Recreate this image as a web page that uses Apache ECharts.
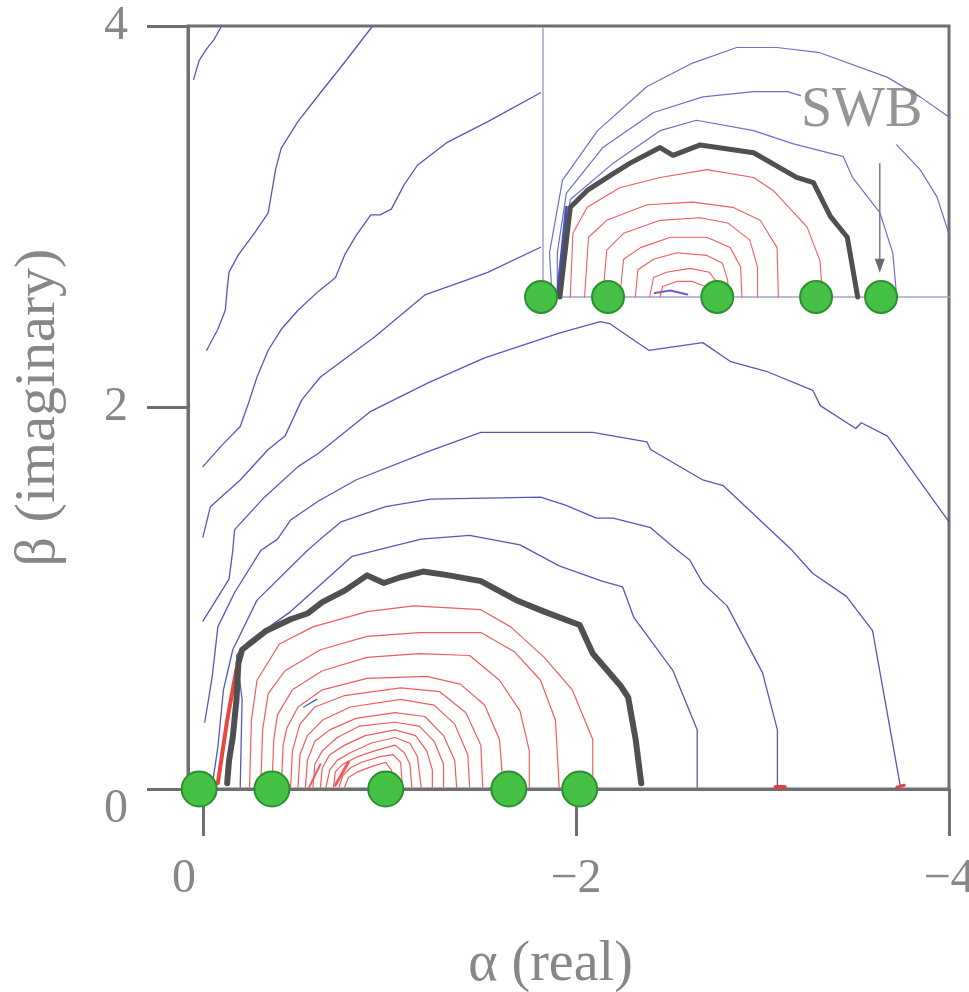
<!DOCTYPE html>
<html>
<head>
<meta charset="utf-8">
<script src="https://cdn.jsdelivr.net/npm/echarts@6/dist/echarts.min.js"></script>
<style>
  html, body { margin: 0; padding: 0; background: #fff; }
  #chart { width: 969px; height: 992px; }
</style>
</head>
<body>
<div id="chart"></div>
<script>
// ---- axis ticks ----
const alphaTicks = [0, -2, -4];
const betaTicks = [0, 2, 4];

// ---- main panel: level curves in the (alpha, beta) plane, points are [alpha, beta] ----
const blue1 = [[-0.10,4.00],[-0.06,3.93],[-0.02,3.88],[0.02,3.82],[0.05,3.72]];
const blue2 = [[-0.91,4.00],[-0.76,3.81],[-0.63,3.65],[-0.51,3.50],[-0.42,3.36],[-0.39,3.25],[-0.35,3.02],[-0.28,2.92],[-0.19,2.80],[-0.14,2.71],[-0.13,2.62],[-0.12,2.51],[-0.08,2.41],[-0.02,2.30]];
const blue3 = [[-1.81,3.65],[-1.53,3.50],[-1.31,3.39],[-1.15,3.27],[-1.08,3.17],[-1.01,3.04],[-0.95,3.01],[-0.90,3.01],[-0.82,2.90],[-0.76,2.80],[-0.71,2.68],[-0.62,2.61],[-0.51,2.51],[-0.42,2.41],[-0.35,2.30],[-0.29,2.16],[-0.24,2.01],[-0.20,1.90],[-0.10,1.80],[0.00,1.69]];
const blue4 = [[-1.81,2.84],[-1.53,2.71],[-1.42,2.67],[-1.19,2.59],[-0.92,2.37],[-0.63,2.16],[-0.53,2.04],[-0.44,1.85],[-0.35,1.78],[-0.20,1.62],[-0.04,1.48],[0.00,1.32]];
const blue5 = [[-4.00,1.40],[-3.67,1.85],[-3.53,1.92],[-3.50,1.89],[-3.31,2.01],[-3.27,2.09],[-3.02,2.19],[-2.83,2.24],[-2.68,2.34],[-2.39,2.30],[-2.18,2.44],[-2.13,2.45],[-1.91,2.39],[-1.51,2.26],[-1.21,2.13],[-0.90,1.98],[-0.76,1.87],[-0.62,1.76],[-0.51,1.69],[-0.33,1.53],[-0.17,1.36],[-0.16,1.25],[-0.14,1.10],[0.00,0.88]];
const blue6 = [[-3.74,0.01],[-3.59,0.83],[-3.45,1.01],[-3.27,1.13],[-3.16,1.25],[-2.79,1.59],[-2.68,1.62],[-2.40,1.78],[-2.38,1.82],[-2.09,1.87],[-1.91,1.87],[-1.49,1.87],[-1.21,1.77],[-0.82,1.62],[-0.62,1.51],[-0.47,1.41],[-0.40,1.31],[-0.31,1.25],[-0.17,1.03],[-0.08,0.85],[-0.05,0.59],[-0.01,0.35]];
const blue7 = [[-3.08,0.01],[-3.08,0.31],[-3.00,0.61],[-2.81,0.96],[-2.68,1.08],[-2.61,1.20],[-2.52,1.27],[-2.40,1.37],[-2.20,1.42],[-2.11,1.42],[-1.94,1.49],[-1.81,1.53],[-1.22,1.52],[-0.98,1.48],[-0.74,1.40],[-0.63,1.31],[-0.56,1.25],[-0.29,0.99],[-0.16,0.73],[-0.11,0.52],[-0.08,0.22],[-0.05,0.02]];
const blue8 = [[-2.65,0.01],[-2.65,0.31],[-2.52,0.62],[-2.31,0.90],[-2.25,1.06],[-2.14,1.09],[-1.91,1.17],[-1.70,1.28],[-1.43,1.33],[-1.17,1.31],[-0.80,1.22],[-0.47,0.93],[-0.24,0.77],[-0.18,0.70],[-0.21,0.47],[-0.20,0.01]];
const blueDash = [[-0.54,0.43],[-0.61,0.47]];

// stability boundary (heavy curve)
const boundary = [[-0.13,0.03],[-0.14,0.15],[-0.16,0.27],[-0.18,0.47],[-0.19,0.66],[-0.21,0.73],[-0.34,0.83],[-0.47,0.89],[-0.56,0.92],[-0.64,0.98],[-0.76,1.04],[-0.88,1.12],[-0.97,1.08],[-1.06,1.11],[-1.18,1.14],[-1.32,1.12],[-1.49,1.09],[-1.68,0.99],[-1.83,0.93],[-2.02,0.86],[-2.09,0.71],[-2.24,0.54],[-2.28,0.48],[-2.32,0.26],[-2.35,0.03]];

// inner (red) level curves
const red1 = [[-0.25,0.01],[-0.26,0.36],[-0.29,0.57],[-0.41,0.76],[-0.59,0.85],[-0.88,0.93],[-1.13,0.96],[-1.49,0.94],[-1.65,0.85],[-1.83,0.69],[-1.98,0.52],[-2.09,0.26],[-2.09,0.01]];
const red2 = [[-0.31,0.01],[-0.32,0.31],[-0.35,0.50],[-0.44,0.62],[-0.63,0.73],[-0.88,0.80],[-1.16,0.82],[-1.49,0.82],[-1.67,0.72],[-1.81,0.57],[-1.89,0.36],[-1.91,0.01]];
const red3 = [[-0.37,0.01],[-0.38,0.26],[-0.40,0.39],[-0.48,0.52],[-0.64,0.62],[-0.88,0.69],[-1.16,0.71],[-1.43,0.70],[-1.59,0.57],[-1.70,0.41],[-1.75,0.20],[-1.75,0.01]];
const red4 = [[-0.42,0.01],[-0.43,0.23],[-0.45,0.32],[-0.51,0.43],[-0.64,0.52],[-0.88,0.58],[-1.20,0.59],[-1.38,0.55],[-1.51,0.44],[-1.59,0.26],[-1.61,0.01]];
const red5 = [[-0.47,0.01],[-0.48,0.20],[-0.52,0.34],[-0.60,0.43],[-0.76,0.49],[-1.06,0.53],[-1.27,0.51],[-1.41,0.40],[-1.49,0.23],[-1.50,0.01]];
const red6 = [[-0.51,0.01],[-0.52,0.18],[-0.56,0.28],[-0.64,0.36],[-0.79,0.43],[-1.06,0.47],[-1.24,0.44],[-1.35,0.34],[-1.42,0.18],[-1.43,0.01]];
const red7 = [[-0.55,0.01],[-0.56,0.15],[-0.60,0.25],[-0.68,0.31],[-0.82,0.37],[-1.03,0.40],[-1.19,0.38],[-1.29,0.28],[-1.35,0.15],[-1.36,0.01]];
const red8 = [[-0.59,0.01],[-0.60,0.13],[-0.64,0.20],[-0.72,0.27],[-0.84,0.33],[-1.03,0.35],[-1.16,0.33],[-1.24,0.25],[-1.29,0.13],[-1.29,0.01]];
const red9 = [[-0.63,0.01],[-0.64,0.11],[-0.68,0.18],[-0.76,0.23],[-0.87,0.28],[-1.03,0.31],[-1.14,0.28],[-1.20,0.20],[-1.23,0.10],[-1.23,0.01]];
const red10 = [[-0.66,0.01],[-0.68,0.10],[-0.72,0.15],[-0.79,0.19],[-0.90,0.24],[-1.03,0.27],[-1.11,0.24],[-1.15,0.17],[-1.17,0.01]];
const red11 = [[-0.70,0.01],[-0.71,0.09],[-0.75,0.13],[-0.83,0.17],[-0.92,0.20],[-1.03,0.23],[-1.08,0.19],[-1.11,0.13],[-1.12,0.01]];
const red12 = [[-0.73,0.01],[-0.75,0.07],[-0.79,0.11],[-0.85,0.14],[-0.95,0.17],[-1.02,0.18],[-1.06,0.14],[-1.07,0.01]];
const red13 = [[-0.76,0.01],[-0.78,0.06],[-0.83,0.09],[-0.91,0.12],[-0.98,0.14],[-1.01,0.10],[-1.02,0.01]];
const redStrip = [[-0.18,0.63],[-0.13,0.36],[-0.08,0.03]];
const redDash1 = [[-0.78,0.14],[-0.71,0.02]];
const redDash2 = [[-0.63,0.13],[-0.57,0.01]];
const redFoot1 = [[-3.07,0.01],[-3.12,0.01]];
const redFoot2 = [[-3.72,0.01],[-3.76,0.02]];

// eigenvalue markers on the real axis
const mainRoots = [[0.02,0],[-0.37,0],[-0.98,0],[-1.64,0],[-2.02,0]];

// ---- inset panel (its own alpha/beta scale) ----
const insetBlue1 = [[-3.13,1.38],[-2.90,1.54],[-2.65,1.69],[-2.13,1.88],[-1.80,1.92],[-1.49,1.92],[-1.15,1.80],[-0.80,1.62],[-0.42,1.28],[-0.15,0.90],[-0.05,0.34],[-0.07,0.00]];
const insetBlue2Right = [[-3.13,0.46],[-3.03,0.77],[-2.90,0.98],[-2.72,1.17]];
const insetBlue2Left = [[-1.98,1.55],[-1.88,1.58],[-1.62,1.58],[-1.23,1.54],[-0.85,1.42],[-0.46,1.15],[-0.18,0.80],[-0.11,0.34],[-0.11,0.00]];
const insetBlue3 = [[-2.72,0.00],[-2.69,0.34],[-2.59,0.65],[-2.38,0.92],[-2.31,1.08],[-1.92,1.18],[-1.62,1.28],[-1.18,1.36],[-0.90,1.28],[-0.54,1.03],[-0.21,0.75],[-0.15,0.34],[-0.13,0.00]];
const insetBlueStrip = [[-0.18,0.69],[-0.11,0.00]];
const insetSquiggle = [[-0.86,0.03],[-0.98,0.05],[-1.11,0.02]];
const insetBoundary = [[-0.13,0.00],[-0.21,0.69],[-0.34,0.82],[-0.54,0.95],[-0.67,1.03],[-0.90,1.15],[-1.00,1.09],[-1.21,1.17],[-1.62,1.11],[-1.95,0.92],[-2.08,0.88],[-2.21,0.62],[-2.34,0.46],[-2.42,0.00]];
const insetRed1 = [[-0.21,0.00],[-0.23,0.49],[-0.34,0.69],[-0.59,0.84],[-0.90,0.92],[-1.26,0.98],[-1.62,0.92],[-1.77,0.82],[-2.03,0.54],[-2.13,0.28],[-2.15,0.00]];
const insetRed2 = [[-0.32,0.00],[-0.35,0.46],[-0.49,0.59],[-0.80,0.71],[-1.15,0.73],[-1.46,0.69],[-1.67,0.59],[-1.80,0.38],[-1.81,0.00]];
const insetRed3 = [[-0.46,0.00],[-0.49,0.36],[-0.62,0.49],[-0.90,0.59],[-1.21,0.61],[-1.42,0.57],[-1.59,0.44],[-1.65,0.23],[-1.65,0.00]];
const insetRed4 = [[-0.59,0.00],[-0.62,0.29],[-0.75,0.38],[-0.98,0.46],[-1.26,0.46],[-1.44,0.38],[-1.52,0.23],[-1.53,0.00]];
const insetRed5 = [[-0.71,0.00],[-0.73,0.21],[-0.85,0.29],[-1.03,0.34],[-1.26,0.32],[-1.38,0.26],[-1.42,0.13],[-1.43,0.00]];
const insetRed6 = [[-0.82,0.00],[-0.85,0.15],[-0.95,0.19],[-1.13,0.22],[-1.28,0.19],[-1.34,0.11],[-1.34,0.00]];
const insetRed7 = [[-0.90,0.00],[-0.92,0.08],[-1.03,0.12],[-1.15,0.12],[-1.25,0.08],[-1.26,0.00]];
const insetRoots = [[0.015,0],[-0.50,0],[-1.34,0],[-2.10,0],[-2.60,0]];
const swbArrow = [[-2.59,1.03],[-2.59,0.24]];
const swbLabelPos = [[-2.45,1.43]];

// ---- styling ----
const AXIS = '#6f6f6f';
const TEXT = '#878787';
const SERIF = 'Liberation Serif, Times New Roman, serif';
const BLUE = '#5458b9';
const BLUE_INSET = '#6b70c9';
const RED = '#ef5d5d';
const HEAVY = '#505050';
const GREEN = '#45c245';
const GREEN_EDGE = '#2d8f2e';

function curve(data, color, width, g, z) {
  return {
    type: 'line', xAxisIndex: g, yAxisIndex: g, data: data,
    symbol: 'none', showSymbol: false, smooth: false, clip: false, silent: true,
    lineStyle: { color: color, width: width, cap: 'round', join: 'round' },
    z: z || 2
  };
}

const series = [];
[blue1, blue2, blue3, blue4, blue5, blue6, blue7, blue8, blueDash].forEach(d => series.push(curve(d, BLUE, 1.3, 0, 2)));
[red1, red2, red3, red4, red5, red6, red7, red8, red9, red10, red11, red12, red13].forEach(d => series.push(curve(d, RED, 1.2, 0, 3)));
series.push(curve(redDash1, RED, 3, 0, 3));
series.push(curve(redDash2, RED, 2, 0, 3));
series.push(curve(redFoot1, '#e0404a', 4, 0, 3));
series.push(curve(redFoot2, '#e0404a', 3, 0, 3));
series.push(curve(redStrip, '#e9473e', 4, 0, 4));
series.push(curve(boundary, HEAVY, 6, 0, 5));
series.push({
  type: 'scatter', xAxisIndex: 0, yAxisIndex: 0, data: mainRoots, symbolSize: 35, clip: false, silent: true,
  itemStyle: { color: GREEN, borderColor: GREEN_EDGE, borderWidth: 2, opacity: 1 }, z: 10
});

[insetBlue1, insetBlue2Right, insetBlue2Left, insetBlue3].forEach(d => series.push(curve(d, BLUE_INSET, 1.2, 1, 2)));
series.push(curve(insetBlueStrip, '#4a4fb3', 3, 1, 3));
series.push(curve(insetSquiggle, '#6a5fc8', 2, 1, 3));
[insetRed1, insetRed2, insetRed3, insetRed4, insetRed5, insetRed6, insetRed7].forEach(d => series.push(curve(d, RED, 1.1, 1, 3)));
series.push(curve(insetBoundary, HEAVY, 5, 1, 5));
series.push({
  type: 'scatter', xAxisIndex: 1, yAxisIndex: 1, data: insetRoots, symbolSize: 32, clip: false, silent: true,
  itemStyle: { color: GREEN, borderColor: GREEN_EDGE, borderWidth: 2, opacity: 1 }, z: 10
});
series.push({
  type: 'line', xAxisIndex: 1, yAxisIndex: 1, clip: false, silent: true, smooth: false,
  data: [
    { value: swbArrow[0], symbol: 'none' },
    { value: swbArrow[1], symbol: 'triangle', symbolSize: [10, 14], symbolRotate: 180 }
  ],
  showSymbol: true,
  lineStyle: { color: '#7a7a7a', width: 1.5 },
  itemStyle: { color: '#6a6a6a' },
  z: 6
});
series.push({
  type: 'scatter', xAxisIndex: 1, yAxisIndex: 1, data: swbLabelPos, symbolSize: 1, clip: false, silent: true,
  itemStyle: { color: 'rgba(0,0,0,0)' },
  label: { show: true, position: 'inside', formatter: 'SWB', fontFamily: SERIF, fontSize: 56, color: '#7a7a7a' },
  z: 7
});

function alphaLabel(v) {
  if (v === 0) return '{o|0}';
  return '\u2212' + Math.abs(v);
}
function betaLabel(v) {
  if (v === 0) return '{o|0}';
  return String(v);
}

const option = {
  animation: false,
  backgroundColor: '#ffffff',
  textStyle: { fontFamily: SERIF },
  grid: [
    { left: 188, right: 20, top: 26, bottom: 203, show: true, borderColor: AXIS, borderWidth: 3, backgroundColor: 'transparent', outerBoundsMode: 'none' },
    { left: 543, right: 19, top: 28, bottom: 695, outerBoundsMode: 'none' }
  ],
  xAxis: [
    {
      gridIndex: 0, type: 'value', inverse: true, min: -4, max: 0.08, interval: 2,
      axisLine: { show: true, onZero: false, lineStyle: { color: AXIS, width: 3 } },
      axisTick: { show: true, inside: false, length: 47, customValues: alphaTicks, lineStyle: { color: AXIS, width: 3 } },
      axisLabel: {
        show: true, customValues: alphaTicks, margin: 66, formatter: alphaLabel,
        fontFamily: SERIF, fontSize: 48, color: TEXT,
        rich: { o: { fontFamily: SERIF, fontSize: 48, color: TEXT, padding: [0, 38, 0, 0] } }
      },
      splitLine: { show: false },
      name: '\u03b1 (real)', nameLocation: 'middle', nameGap: 148, nameMoveOverlap: false,
      nameTextStyle: { fontFamily: SERIF, fontSize: 56, color: TEXT, padding: [0, 36, 0, 0] }
    },
    {
      gridIndex: 1, type: 'value', inverse: true, min: -3.13, max: 0,
      axisLine: { show: true, onZero: false, lineStyle: { color: '#a2a6cc', width: 1.5 } },
      axisTick: { show: false }, axisLabel: { show: false }, splitLine: { show: false }
    }
  ],
  yAxis: [
    {
      gridIndex: 0, type: 'value', min: 0, max: 4, interval: 2,
      axisLine: { show: true, onZero: false, lineStyle: { color: AXIS, width: 3 } },
      axisTick: { show: true, inside: false, length: 41, customValues: betaTicks, lineStyle: { color: AXIS, width: 3 } },
      axisLabel: {
        show: true, customValues: betaTicks, margin: 60, formatter: betaLabel,
        fontFamily: SERIF, fontSize: 48, color: TEXT,
        rich: { o: { fontFamily: SERIF, fontSize: 48, color: TEXT, padding: [40, 0, 0, 0] } }
      },
      splitLine: { show: false },
      name: '\u03b2 (imaginary)', nameLocation: 'middle', nameRotate: 90, nameGap: 120, nameMoveOverlap: false,
      nameTextStyle: { fontFamily: SERIF, fontSize: 58, color: TEXT }
    },
    {
      gridIndex: 1, type: 'value', min: 0, max: 2.07,
      axisLine: { show: true, onZero: false, lineStyle: { color: '#a2a6cc', width: 1.5 } },
      axisTick: { show: false }, axisLabel: { show: false }, splitLine: { show: false }
    }
  ],
  series: series
};

const chart = echarts.init(document.getElementById('chart'), null, { renderer: 'canvas' });
chart.setOption(option);
</script>
</body>
</html>
